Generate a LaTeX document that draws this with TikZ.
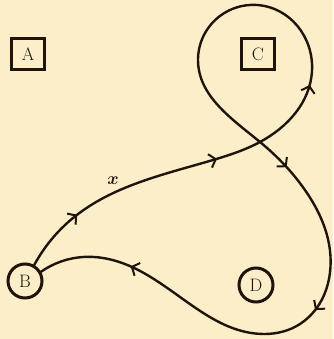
\documentclass[tikz,border=0pt]{standalone}
\usetikzlibrary{arrows.meta,decorations.markings,hobby}
\definecolor{paper}{RGB}{252,238,200}
\definecolor{ink}{RGB}{30,20,12}
\begin{document}
\begin{tikzpicture}[x=1pt,y=1pt,
  lbl/.style={font=\fontsize{18}{20}\selectfont, text=ink},
  sqnode/.style={lbl, draw=ink, line width=3pt, minimum width=33pt, minimum height=31pt, inner sep=0pt},
  cirnode/.style={lbl, draw=ink, circle, line width=3pt, minimum size=34pt, inner sep=0pt},
  tip/.tip={Straight Barb[length=6pt,width=14pt,line width=2pt]},
  curve/.style={draw=ink, line width=2.4pt, line cap=round,
    decoration={markings,
      mark=at position 0.058 with {\arrow{tip}},
      mark=at position 0.19 with {\arrow{tip}},
      mark=at position 0.298 with {\arrow{tip}},
      mark=at position 0.597 with {\arrow{tip}},
      mark=at position 0.735 with {\arrow{tip}},
      mark=at position 0.918 with {\arrow{tip}}},
    postaction=decorate}]
\fill[paper] (0,0) rectangle (333,339);
\useasboundingbox (0,0) rectangle (333,339);
\node[sqnode] (A) at (28,285) {A};
\node[sqnode] (C) at (258,285) {C};
\node[cirnode] (B) at (25,58) {B};
\node[cirnode] (D) at (256,54) {D};
\node[lbl, font=\fontsize{17}{19}\selectfont\boldmath] (xl) at (113,158) {$x$};
\draw[curve, use Hobby shortcut] (B.60) .. (73,121) .. (213,179) .. (260,197)
  .. (312,268) .. (257,334) .. (198,279) .. (260,197) .. (307,146)
  .. (329,95) .. (300,15) .. (265,5) .. (132,72) .. (83,82) .. (B.30);
\end{tikzpicture}
\end{document}
